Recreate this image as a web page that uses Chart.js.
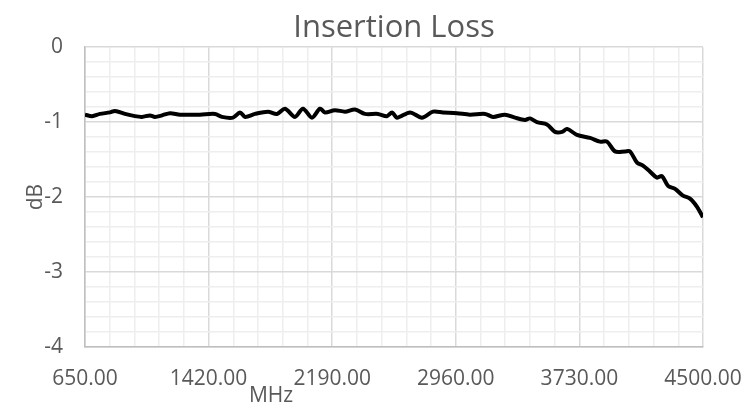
<!DOCTYPE html>
<html>
<head>
<meta charset="utf-8">
<script src="https://cdn.jsdelivr.net/npm/chart.js@4"></script>
<style>
  body { margin: 0; background: #fff; }
  #myChart { display: block; }
</style>
</head>
<body>
<canvas id="myChart" width="745" height="405"></canvas>
<script>
// frequencias (MHz) e perda (dB)
const freqs = [650, 694, 743, 806, 837, 899, 961, 1005, 1055, 1086, 1130, 1180, 1242, 1366, 1460, 1503,
  1572, 1616, 1647, 1709, 1790, 1846, 1896, 1958, 2008, 2064, 2114, 2145, 2207, 2270, 2332, 2394,
  2475, 2531, 2563, 2594, 2675, 2749, 2818, 2880, 2967, 3048, 3142, 3192, 3266, 3329, 3391, 3422,
  3466, 3528, 3578, 3622, 3653, 3715, 3796, 3858, 3902, 3952, 4014, 4045, 4089, 4126, 4170, 4213,
  4244, 4282, 4326, 4375, 4419, 4463, 4500];
const perda = [-0.90, -0.92, -0.89, -0.87, -0.85, -0.89, -0.92, -0.93, -0.91, -0.93, -0.91, -0.88, -0.90, -0.90, -0.89, -0.93,
  -0.94, -0.87, -0.93, -0.89, -0.86, -0.89, -0.82, -0.93, -0.82, -0.94, -0.82, -0.87, -0.84, -0.86, -0.83, -0.89,
  -0.89, -0.92, -0.87, -0.94, -0.87, -0.94, -0.86, -0.87, -0.88, -0.90, -0.89, -0.93, -0.90, -0.94, -0.97, -0.95,
  -1.00, -1.03, -1.13, -1.13, -1.09, -1.17, -1.21, -1.26, -1.26, -1.39, -1.39, -1.39, -1.54, -1.58, -1.66, -1.74,
  -1.72, -1.85, -1.89, -1.98, -2.02, -2.13, -2.27];

const xTicks = [650, 1420, 2190, 2960, 3730, 4500];
const yTicks = [0, -1, -2, -3, -4];

const pontos = [];
for (let i = 0; i < freqs.length; i++) {
  pontos.push({ x: freqs[i], y: perda[i] });
}

const cinza = '#595959';
const fonte = '"Open Sans", sans-serif';

function ehMaiorX(v) {
  return xTicks.some(t => Math.abs(t - v) < 1e-6);
}
function ehMaiorY(v) {
  return yTicks.some(t => Math.abs(t - v) < 1e-6);
}

// rotulo MHz fica deslocado no original
const rotuloX = {
  id: 'rotuloX',
  afterDraw(chart) {
    const ctx = chart.ctx;
    ctx.save();
    ctx.font = '21px ' + fonte;
    ctx.fillStyle = cinza;
    ctx.textAlign = 'center';
    ctx.textBaseline = 'alphabetic';
    ctx.fillText('MHz', 271, 402);
    ctx.restore();
  }
};

new Chart(document.getElementById('myChart'), {
  type: 'line',
  data: {
    datasets: [{
      label: 'Insertion Loss',
      data: pontos,
      borderColor: '#000',
      borderWidth: 4,
      pointRadius: 0,
      tension: 0.3,
      fill: false
    }]
  },
  options: {
    responsive: false,
    animation: false,
    layout: { padding: { left: 33, right: 42, top: 0, bottom: 0 } },
    plugins: {
      legend: { display: false },
      tooltip: { enabled: false },
      title: {
        display: true,
        fullSize: false,
        text: 'Insertion Loss',
        color: cinza,
        font: { family: fonte, size: 31, weight: 'normal', lineHeight: 1.2 },
        padding: { top: 10, bottom: 0 }
      }
    },
    scales: {
      x: {
        type: 'linear',
        min: 650,
        max: 4500,
        afterFit: s => { s.height = 58; s.paddingLeft = 0; s.paddingRight = 0; },
        ticks: {
          stepSize: 154,
          autoSkip: false,
          maxRotation: 0,
          padding: 19,
          color: cinza,
          font: { family: fonte, size: 21 },
          callback: v => ehMaiorX(v) ? v.toFixed(2) : ''
        },
        grid: {
          drawTicks: false,
          color: ctx => ehMaiorX(ctx.tick.value) ? '#d9d9d9' : '#eeeeee',
          lineWidth: 1.5
        },
        border: { color: '#bfbfbf', width: 1.5 }
      },
      y: {
        min: -4,
        max: 0,
        afterFit: s => { s.width = 52; s.paddingTop = 0; s.paddingBottom = 0; },
        ticks: {
          stepSize: 0.2,
          autoSkip: false,
          padding: 22,
          color: cinza,
          font: { family: fonte, size: 21 },
          callback: v => ehMaiorY(v) ? String(Math.round(v)) : ''
        },
        grid: {
          drawTicks: false,
          color: ctx => ehMaiorY(ctx.tick.value) ? '#d9d9d9' : '#eeeeee',
          lineWidth: 1.5
        },
        border: { color: '#bfbfbf', width: 1.5 },
        title: {
          display: true,
          text: 'dB',
          color: cinza,
          font: { family: fonte, size: 21, lineHeight: 1.2 },
          padding: { top: -10, bottom: 0 }
        }
      }
    }
  },
  plugins: [rotuloX]
});
</script>
</body>
</html>
